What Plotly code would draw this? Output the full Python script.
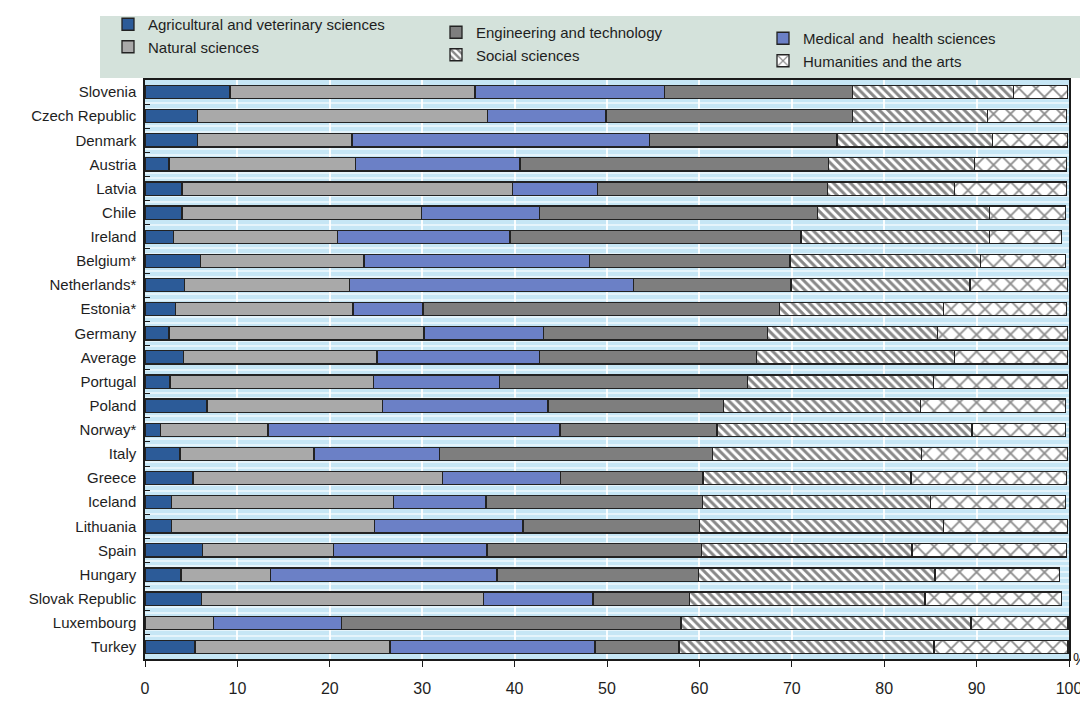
import plotly.graph_objects as go

countries = ["Slovenia", "Czech Republic", "Denmark", "Austria", "Latvia", "Chile", "Ireland",
             "Belgium*", "Netherlands*", "Estonia*", "Germany", "Average", "Portugal", "Poland",
             "Norway*", "Italy", "Greece", "Iceland", "Lithuania", "Spain", "Hungary",
             "Slovak Republic", "Luxembourg", "Turkey"]

agricultural = [9.2, 5.7, 5.7, 2.6, 4.0, 4.0, 3.1, 6.0, 4.3, 3.3, 2.6, 4.2, 2.7, 6.7, 1.7, 3.8,
                5.2, 2.9, 2.9, 6.2, 3.9, 6.1, 0.0, 5.4]
natural = [26.5, 31.4, 16.7, 20.2, 35.8, 25.9, 17.7, 17.7, 17.8, 19.2, 27.6, 20.9, 22.0, 19.0,
           11.6, 14.5, 27.0, 24.0, 21.9, 14.2, 9.7, 30.5, 7.4, 21.1]
medical = [20.5, 12.8, 32.2, 17.8, 9.2, 12.8, 18.7, 24.4, 30.8, 7.6, 12.9, 17.6, 13.7, 17.9,
           31.6, 13.6, 12.8, 10.0, 16.1, 16.6, 24.5, 11.9, 13.9, 22.2]
engineering = [20.4, 26.7, 20.3, 33.4, 24.9, 30.1, 31.5, 21.7, 17.0, 38.6, 24.3, 23.5, 26.8,
               19.0, 17.0, 29.5, 15.4, 23.4, 19.1, 23.2, 21.8, 10.4, 36.7, 9.1]
social = [17.4, 14.6, 16.8, 15.8, 13.7, 18.6, 20.4, 20.6, 19.4, 17.7, 18.4, 21.4, 20.1, 21.3,
          27.6, 22.6, 22.5, 24.7, 26.4, 22.8, 25.6, 25.5, 31.4, 27.6]
humanities = [5.8, 8.5, 8.1, 9.9, 12.1, 8.2, 7.8, 9.2, 10.5, 13.3, 14.0, 12.2, 14.5, 15.7, 10.1,
              15.8, 16.8, 14.6, 13.4, 16.7, 13.5, 14.8, 10.5, 14.5]

x_ticks = [0, 10, 20, 30, 40, 50, 60, 70, 80, 90, 100]

FONT = "Liberation Sans Narrow, Arial Narrow, Liberation Sans, Arial, sans-serif"
LINE = dict(color="#222222", width=1.3)

series = [
    ("Agricultural and veterinary sciences", agricultural, dict(color="#2c5b98"), "legend"),
    ("Natural sciences", natural, dict(color="#a9a9a9"), "legend"),
    ("Medical and  health sciences", medical, dict(color="#6b80c6"), "legend3"),
    ("Engineering and technology", engineering, dict(color="#7e7e7e"), "legend2"),
    ("Social sciences", social, dict(color="white",
        pattern=dict(shape="\\", fgcolor="#111111", bgcolor="white", size=6, solidity=0.5)), "legend2"),
    ("Humanities and the arts", humanities, dict(color="white",
        pattern=dict(shape="x", fgcolor="#1a1a1a", bgcolor="white", size=12, solidity=0.28)), "legend3"),
]

fig = go.Figure()
for name, vals, marker, leg in series:
    m = dict(marker)
    m["line"] = LINE
    fig.add_trace(go.Bar(
        y=countries, x=vals, name=name, orientation="h", marker=m,
        width=0.55, legend=leg,
    ))

# dummy trace on a fine-grid overlay axis to emulate the striped background
fig.add_trace(go.Scatter(x=[None], y=[None], yaxis="y2", showlegend=False, hoverinfo="skip"))

leg_common = dict(orientation="v", xref="container", yref="container",
                  xanchor="left", yanchor="top", bgcolor="rgba(0,0,0,0)",
                  font=dict(size=15, family=FONT, color="#1e1e1e"),
                  tracegroupgap=0, itemwidth=30, traceorder="normal")

PL, PR, PT, PB = 137, 27, 72, 54
PW = 1088 - PL - PR
PH = 705 - PT - PB


def px_x(px):
    return (px - PL) / PW


def px_y(py):
    return (705 - PB - py) / PH


fig.update_layout(
    width=1088, height=705,
    barmode="stack",
    paper_bgcolor="white",
    plot_bgcolor="#c6e6f5",
    margin=dict(l=PL, r=PR, t=PT, b=PB, autoexpand=False),
    font=dict(family=FONT, size=15, color="#1e1e1e"),
    xaxis=dict(
        range=[0, 100], tickvals=x_ticks, ticktext=[str(v) for v in x_ticks],
        showgrid=True, gridcolor="rgba(255,255,255,0.9)", gridwidth=2,
        showline=True, linecolor="#1a1a1a", linewidth=1.5, mirror=True,
        ticks="outside", ticklen=6, tickcolor="#1a1a1a",
        tickfont=dict(size=16), zeroline=False, ticklabelstandoff=8,
    ),
    yaxis=dict(
        categoryorder="array", categoryarray=countries, autorange="reversed",
        showline=True, linecolor="#1a1a1a", linewidth=1.5, mirror=True,
        ticks="inside", tickson="boundaries", ticklen=5, tickcolor="#1a1a1a",
        showgrid=False, tickfont=dict(size=15), ticklabelstandoff=4,
    ),
    yaxis2=dict(
        overlaying="y", range=[0, 100], dtick=1, showgrid=True,
        gridcolor="rgba(255,255,255,0.55)", gridwidth=2,
        showticklabels=False, ticks="", zeroline=False, showline=False,
    ),
    legend=dict(leg_common, x=100 / 1088, y=1.0),
    legend2=dict(leg_common, x=428 / 1088, y=1 - 8 / 705),
    legend3=dict(leg_common, x=755 / 1088, y=1 - 14 / 705),
    shapes=[dict(
        type="rect", xref="paper", yref="paper",
        x0=px_x(92), x1=px_x(1085), y0=px_y(70), y1=px_y(8),
        fillcolor="#d4e2db", line=dict(width=0), layer="below",
    )],
    annotations=[dict(
        text="%", xref="paper", yref="paper", x=px_x(1063), y=px_y(651),
        xanchor="left", yanchor="middle", showarrow=False, font=dict(size=16),
    )],
    showlegend=True,
)

fig.write_html("out.html")
